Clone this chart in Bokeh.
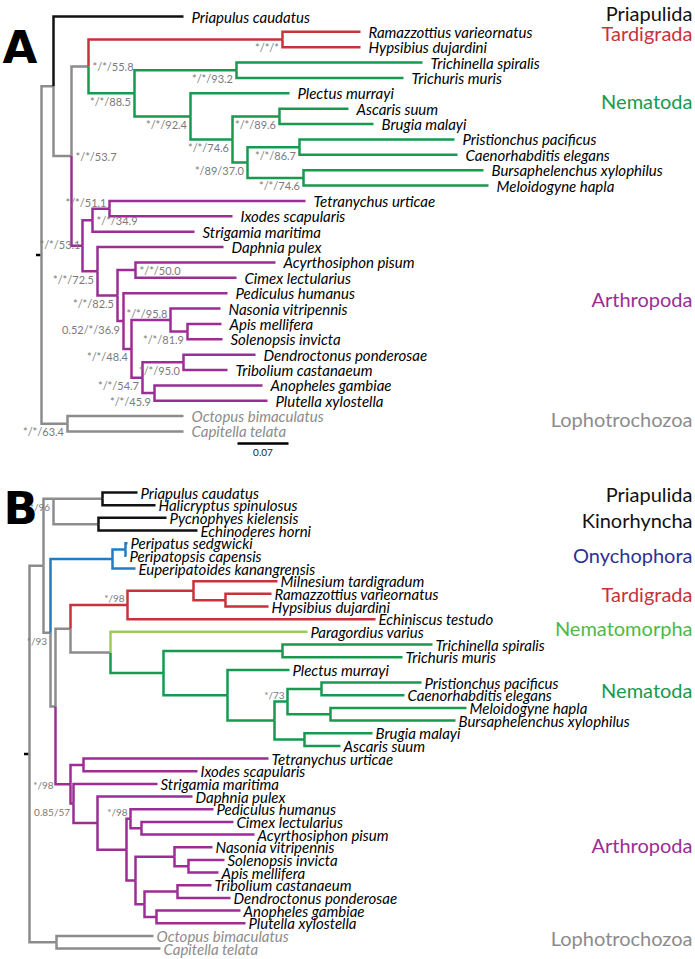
from bokeh.plotting import figure
from bokeh.models import Range1d
from bokeh.core.properties import value
from bokeh.embed import file_html
from bokeh.resources import INLINE

# ---------------- Panel A data ----------------
# distance from root in figure units (scale bar 0.07 substitutions/site = 51 units)
A_taxa = ["Priapulus caudatus", "Ramazzottius varieornatus", "Hypsibius dujardini",
          "Trichinella spiralis", "Trichuris muris", "Plectus murrayi", "Ascaris suum",
          "Brugia malayi", "Pristionchus pacificus", "Caenorhabditis elegans",
          "Bursaphelenchus xylophilus", "Meloidogyne hapla", "Tetranychus urticae",
          "Ixodes scapularis", "Strigamia maritima", "Daphnia pulex", "Acyrthosiphon pisum",
          "Cimex lectularius", "Pediculus humanus", "Nasonia vitripennis", "Apis mellifera",
          "Solenopsis invicta", "Dendroctonus ponderosae", "Tribolium castanaeum",
          "Anopheles gambiae", "Plutella xylostella", "Octopus bimaculatus", "Capitella telata"]
A_tip = [142, 319, 319, 381, 362, 248, 307, 332, 413, 416, 442, 447, 264, 191, 153, 182,
         234, 195, 186, 179, 180, 181, 214, 186, 221, 226, 142, 142]
A_leaf_parent = ["ecd", "tard", "tard", "trich", "trich", "n2", "asc", "asc", "pc", "pc",
                 "bm", "bm", "ti", "ti", "cm", "panc", "ac", "ac", "i2", "hym", "as", "as",
                 "col", "col", "dl", "dl", "lop", "lop"]
A_leaf_clade = ["black", "red", "red"] + ["green"] * 9 + ["purple"] * 14 + ["gray"] * 2

A_nodes = ["root", "ecd", "pan", "tn", "tard", "nem", "trich", "n2", "n3", "asc", "n4",
           "pc", "bm", "arth", "cm", "ti", "panc", "ins", "ac", "i2", "i3", "hym", "as",
           "i4", "col", "dl", "lop"]
A_node_parent = [None, "root", "ecd", "pan", "tn", "tn", "nem", "nem", "n2", "n3", "n3",
                 "n4", "n4", "pan", "arth", "cm", "arth", "panc", "ins", "ins", "i2", "i3",
                 "hym", "i3", "i4", "i4", "root"]
A_node_depth = [0, 12, 30, 47, 241, 93, 195, 149, 191, 238, 206, 258, 262, 41, 51, 68, 56,
                76, 94, 82, 90, 129, 146, 101, 142, 113, 26]
A_node_clade = ["gray", "gray", "gray", "gray", "red"] + ["green"] * 8 + ["purple"] * 13 + ["gray"]
A_node_support = ["", "", "*/*/53.7", "*/*/55.8", "*/*/*", "*/*/88.5", "*/*/93.2", "*/*/92.4",
                  "*/*/74.6", "*/*/89.6", "*/89/37.0", "*/*/86.7", "*/*/74.6", "*/*/53.1",
                  "*/*/34.9", "*/*/51.1", "*/*/72.5", "*/*/82.5", "*/*/50.0", "0.52/*/36.9",
                  "*/*/48.4", "*/*/95.8", "*/*/81.9", "*/*/54.7", "*/*/95.0", "*/*/45.9",
                  "*/*/63.4"]
A_clades = ["Priapulida", "Tardigrada", "Nematoda", "Arthropoda", "Lophotrochozoa"]
A_clade_row = [-0.2, 1.1, 5.5, 18.35, 26.2]
A_clade_color = ["black", "red", "green", "purple", "gray"]
A_scale_value = 0.07
A_scale_units = 51

# ---------------- Panel B data ----------------
B_taxa = ["Priapulus caudatus", "Halicryptus spinulosus", "Pycnophyes kielensis",
          "Echinoderes horni", "Peripatus sedgwicki", "Peripatopsis capensis",
          "Euperipatoides kanangrensis", "Milnesium tardigradum", "Ramazzottius varieornatus",
          "Hypsibius dujardini", "Echiniscus testudo", "Paragordius varius",
          "Trichinella spiralis", "Trichuris muris", "Plectus murrayi",
          "Pristionchus pacificus", "Caenorhabditis elegans", "Meloidogyne hapla",
          "Bursaphelenchus xylophilus", "Brugia malayi", "Ascaris suum",
          "Tetranychus urticae", "Ixodes scapularis", "Strigamia maritima", "Daphnia pulex",
          "Pediculus humanus", "Cimex lectularius", "Acyrthosiphon pisum",
          "Nasonia vitripennis", "Solenopsis invicta", "Apis mellifera",
          "Tribolium castanaeum", "Dendroctonus ponderosae", "Anopheles gambiae",
          "Plutella xylostella", "Octopus bimaculatus", "Capitella telata"]
B_tip = [108, 126, 137, 168, 98, 97, 106, 248, 242, 239, 346, 278, 403, 373, 260, 392, 375,
         437, 426, 343, 311, 239, 168, 128, 163, 184, 204, 225, 183, 195, 189, 182, 201,
         211, 216, 124, 131]
B_leaf_parent = ["pri", "pri", "kin", "kin", "per", "per", "ony", "eut", "rh", "rh", "tard",
                 "ntd", "tr", "tr", "n2", "pc", "pc", "mb", "mb", "ba", "ba", "chel", "chel",
                 "mand", "panc", "para", "ca", "ca", "hym", "sa", "sa", "col", "col", "dl",
                 "dl", "lop", "lop"]
B_leaf_clade = (["black"] * 4 + ["blue"] * 3 + ["red"] * 4 + ["lime"] + ["green"] * 9
                + ["purple"] * 14 + ["gray"] * 2)

B_nodes = ["root", "ecd", "scal", "pri", "kin", "P", "ony", "per", "Q", "R", "tard", "eut",
           "rh", "ntd", "nem", "tr", "n2", "n3", "n4", "pc", "mb", "ba", "arth", "chel",
           "mand", "panc", "ins", "para", "ca", "holo", "hym", "sa", "h2", "col", "dl", "lop"]
B_node_parent = [None, "root", "ecd", "scal", "scal", "ecd", "P", "ony", "P", "Q", "R",
                 "tard", "eut", "R", "ntd", "nem", "nem", "n2", "n3", "n4", "n4", "n3", "Q",
                 "arth", "arth", "mand", "panc", "ins", "para", "ins", "holo", "hym", "holo",
                 "h2", "h2", "root"]
B_node_depth = [0, 14, 24, 73, 69, 21, 83, 96, 26, 41, 98, 164, 196, 81, 134, 253, 198, 245,
                258, 292, 301, 275, 41, 54, 44, 68, 97, 101, 112, 106, 145, 159, 115, 148,
                127, 27]
B_node_clade = (["gray"] * 6 + ["blue"] * 2 + ["gray"] * 2 + ["red"] * 3 + ["gray"]
                + ["green"] * 8 + ["purple"] * 13 + ["gray"])
B_node_support = ["", "", "*/96", "", "", "*/93", "", "", "", "", "*/98", "", "", "", "", "",
                  "", "", "*/73", "", "", "", "*/98", "", "0.85/57", "", "", "*/98", "", "",
                  "", "", "", "", "", ""]
B_clades = ["Priapulida", "Kinorhyncha", "Onychophora", "Tardigrada", "Nematomorpha",
            "Nematoda", "Arthropoda", "Lophotrochozoa"]
B_clade_row = [0.08, 2.14, 4.92, 8.0, 10.7, 15.6, 27.8, 35.2]
B_clade_color = ["black", "black", "navy", "red", "limetext", "green", "purple", "gray"]

# ---------------- styling / layout ----------------
COL = {"black": "#111111", "gray": "#8c8c8c", "red": "#c8323a", "green": "#17994f",
       "purple": "#9b2d95", "blue": "#1f7dc6", "lime": "#9dcb5c",
       "navy": "#2e3192", "limetext": "#4fb848"}
A_place = ["", "", "right", "right", "below", "below", "below", "below", "below", "below",
           "below", "below", "below", "left", "right", "above", "below", "below", "right",
           "below", "below", "above", "below", "below", "below", "below", "below"]
B_place = ["", "", "below", "", "", "below", "", "", "", "", "above", "", "", "", "", "", "",
           "", "above", "", "", "", "stem", "", "below", "", "", "above", "", "", "", "", "",
           "", "", ""]
B_align_first = ["scal"]

FONT = value("Lato")

p = figure(width=695, height=959, x_range=Range1d(0, 695), y_range=Range1d(959, 0),
           toolbar_location=None, output_backend="svg", x_axis_type=None, y_axis_type=None,
           min_border=0, outline_line_color=None)
p.grid.visible = False
p.background_fill_color = "white"


def build(taxa, tip, leaf_parent, nodes, node_parent, node_depth, align_first, x0, top, step):
    pos, parent, children = {}, {}, {n: [] for n in nodes}
    for i, (t, par) in enumerate(zip(taxa, leaf_parent)):
        pos[t] = (x0 + tip[i], top + step * i)
        parent[t] = par
        children[par].append(t)
    depth = dict(zip(nodes, node_depth))
    for n, par in zip(nodes, node_parent):
        parent[n] = par
        if par is not None:
            children[par].append(n)

    def y_of(n):
        if n in pos:
            return pos[n][1]
        ys = [y_of(c) for c in children[n]]
        y = min(ys) if n in align_first else (min(ys) + max(ys)) / 2.0
        pos[n] = (x0 + depth[n], y)
        return y

    root = nodes[node_parent.index(None)]
    y_of(root)
    return pos, parent, root


def draw_panel(taxa, tip, leaf_parent, leaf_clade, nodes, node_parent, node_depth, node_clade,
               support, place, align_first, x0, top, step, text_gap, sup_size,
               clades, clade_row, clade_color):
    pos, parent, root = build(taxa, tip, leaf_parent, nodes, node_parent, node_depth,
                              align_first, x0, top, step)
    xs, ys, cols = [], [], []
    items = list(zip(nodes, node_clade)) + list(zip(taxa, leaf_clade))
    items.sort(key=lambda it: 0 if it[1] == "gray" else 1)
    for name, clade in items:
        par = parent[name]
        if par is None:
            continue
        px, py = pos[par]
        x, y = pos[name]
        xs.append([px, px, x])
        ys.append([py, y, y])
        cols.append(COL[clade])
    p.multi_line(xs, ys, line_color=cols, line_width=2.5, line_join="miter", line_cap="butt")

    # root marker
    rx, ry = pos[root]
    p.segment(x0=[rx - 5.5], y0=[ry], x1=[rx - 1.2], y1=[ry], line_color="black", line_width=2.5)

    # taxon labels
    tx = [pos[t][0] + text_gap for t in taxa]
    ty = [pos[t][1] for t in taxa]
    tc = [COL["gray"] if c == "gray" else "#000000" for c in leaf_clade]
    p.text(x=tx, y=ty, text=taxa, text_color=tc, text_font=FONT, text_font_style="italic",
           text_font_size="15px", text_align="left", text_baseline="middle")

    # support values
    groups = {"left": ([], [], []), "right": ([], [], [])}
    for n, s, pl in zip(nodes, support, place):
        if not s:
            continue
        x, y = pos[n]
        if pl == "below":
            groups["right"][0].append(x - 3.5); groups["right"][1].append(y + 8)
            groups["right"][2].append(s)
        elif pl == "above":
            groups["right"][0].append(x - 3); groups["right"][1].append(y - 6.5)
            groups["right"][2].append(s)
        elif pl == "left":
            groups["right"][0].append(x - 2); groups["right"][1].append(y - 1.5)
            groups["right"][2].append(s)
        elif pl == "stem":
            groups["right"][0].append(pos[parent[n]][0] - 2); groups["right"][1].append(y + 1)
            groups["right"][2].append(s)
        elif pl == "right":
            groups["left"][0].append(x + 4); groups["left"][1].append(y)
            groups["left"][2].append(s)
    for align, (gx, gy, gt) in groups.items():
        if gt:
            p.text(x=gx, y=gy, text=gt, text_color="#7a7a7a", text_font=FONT,
                   text_font_size=sup_size, text_align=align, text_baseline="middle")

    # clade names
    cy = [top + step * r for r in clade_row]
    p.text(x=[692] * len(clades), y=cy, text=clades, text_color=[COL[c] for c in clade_color],
           text_font=FONT, text_font_size="20px", text_align="right", text_baseline="middle")
    return pos


posA = draw_panel(A_taxa, A_tip, A_leaf_parent, A_leaf_clade, A_nodes, A_node_parent,
                  A_node_depth, A_node_clade, A_node_support, A_place, [], 41, 16, 15.37, 8,
                  "11px", A_clades, A_clade_row, A_clade_color)
posB = draw_panel(B_taxa, B_tip, B_leaf_parent, B_leaf_clade, B_nodes, B_node_parent,
                  B_node_depth, B_node_clade, B_node_support, B_place, B_align_first, 29, 492,
                  12.67, 3, "10px", B_clades, B_clade_row, B_clade_color)

# scale bar (panel A)
sb_x0, sb_y = 237, 443
p.segment(x0=[sb_x0], y0=[sb_y], x1=[sb_x0 + A_scale_units], y1=[sb_y], line_color="black",
          line_width=2.5)
p.text(x=[sb_x0 + A_scale_units / 2], y=[sb_y + 8.5], text=["%.2f" % A_scale_value],
       text_color="#222222", text_font=FONT, text_font_size="10px", text_align="center",
       text_baseline="middle")

# panel letters
p.text(x=[2, 3], y=[47, 508], text=["A", "B"], text_color="black",
       text_font=value("DejaVu Sans"), text_font_style="bold", text_font_size="45px",
       text_align="left", text_baseline="alphabetic")

open("out.html", "w").write(file_html(p, INLINE))
